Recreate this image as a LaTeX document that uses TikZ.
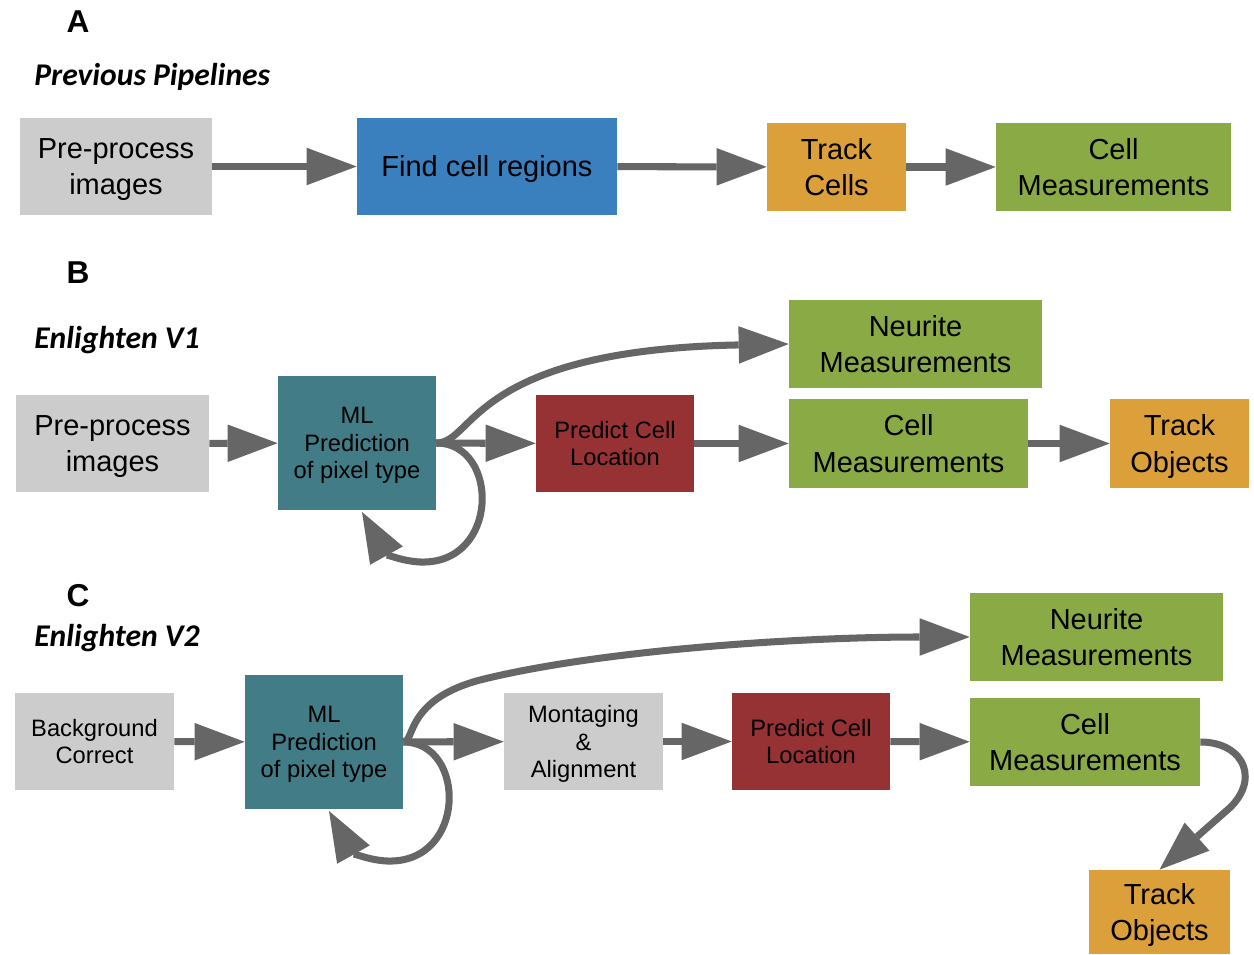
\documentclass[tikz,border=0pt]{standalone}
\usepackage{fontspec}
\setmainfont{Liberation Sans}
\newfontfamily\headfont{Carlito}
\usetikzlibrary{arrows.meta}
\definecolor{boxgray}{HTML}{CCCCCC}
\definecolor{boxblue}{HTML}{3A7FBE}
\definecolor{boxteal}{HTML}{427C87}
\definecolor{boxred}{HTML}{963234}
\definecolor{boxorange}{HTML}{DBA03A}
\definecolor{boxgreen}{HTML}{8AAA45}
\definecolor{arrowgray}{HTML}{666666}
\tikzset{
  blk/.style={inner sep=0pt, align=center, text depth=0pt, font=\fontsize{16.5}{20.5}\selectfont},
  sml/.style={font=\fontsize{13.5}{15.8}\selectfont},
  sz/.style 2 args={minimum width=#1cm, minimum height=#2cm},
  arr/.style={line width=4pt, draw=arrowgray, -{Triangle[length=1cm,width=0.75cm,line width=0pt]}},
  lbl/.style={inner sep=0pt, font=\fontsize{18}{20}\selectfont\bfseries},
  ttl/.style={inner sep=0pt, anchor=west, font=\fontsize{18}{20}\selectfont\headfont\bfseries\itshape}
}
\begin{document}
\begin{tikzpicture}[x=0.02cm, y=-0.02cm]
      \useasboundingbox (0,0) rectangle (1254,955);
      \draw
        (78,22) node[lbl] (la){A}
        (34,77) node[ttl] (ta){Previous Pipelines}
        (78,273) node[lbl] (lb){B}
        (34,340) node[ttl] (tb){Enlighten V1}
        (78,596) node[lbl] (lc){C}
        (34,638) node[ttl] (tc){Enlighten V2};
      \draw
        (116,166.5) node[blk, fill=boxgray, sz={3.84}{1.94}] (preA){Pre-process\\images}
        (487,166.5) node[blk, fill=boxblue, sz={5.2}{1.94}] (findA){Find cell regions}
        (836.5,167) node[blk, fill=boxorange, sz={2.78}{1.76}] (trackA){Track\\Cells}
        (1113.5,167) node[blk, fill=boxgreen, sz={4.7}{1.76}] (cellA){Cell\\Measurements};
      \draw
        (112.5,443.5) node[blk, fill=boxgray, sz={3.86}{1.94}] (preB){Pre-process\\images}
        (357,443) node[blk, sml, fill=boxteal, sz={3.16}{2.68}] (mlB){ML\\Prediction\\of pixel type}
        (615,443.5) node[blk, sml, fill=boxred, sz={3.16}{1.94}] (predB){Predict Cell\\Location}
        (915.5,344) node[blk, fill=boxgreen, sz={5.06}{1.76}] (neuB){Neurite\\Measurements}
        (908.5,443.5) node[blk, fill=boxgreen, sz={4.78}{1.78}] (cellB){Cell\\Measurements}
        (1179.5,443.5) node[blk, fill=boxorange, sz={2.78}{1.78}] (trackB){Track\\Objects};
      \draw
        (94.5,741.5) node[blk, sml, fill=boxgray, sz={3.18}{1.94}] (bgC){Background\\Correct}
        (324,742) node[blk, sml, fill=boxteal, sz={3.16}{2.68}] (mlC){ML\\Prediction\\of pixel type}
        (583.5,741.5) node[blk, sml, fill=boxgray, sz={3.18}{1.94}] (montC){Montaging\\\&\\Alignment}
        (811,741.5) node[blk, sml, fill=boxred, sz={3.16}{1.94}] (predC){Predict Cell\\Location}
        (1096.5,637) node[blk, fill=boxgreen, sz={5.06}{1.76}] (neuC){Neurite\\Measurements}
        (1085,742) node[blk, fill=boxgreen, sz={4.6}{1.76}] (cellC){Cell\\Measurements}
        (1159.5,912) node[blk, fill=boxorange, sz={2.82}{1.68}] (trackC){Track\\Objects};
      \coordinate (loopB) at (362,512);
      \coordinate (loopC) at (329,811);
      \begin{scope}[arr]
        \draw (preA) to (findA);
        \draw (findA) to (trackA);
        \draw (trackA) to (cellA);
        \draw (preB) to (mlB);
        \draw (mlB) to (predB);
        \draw (predB) to (cellB);
        \draw (cellB) to (trackB);
        \draw (mlB.east) .. controls (475,443) and (470,350) .. (neuB.west);
        \draw (mlB.east) .. controls (500,443) and (500,565) .. (420,562) .. controls (400,561) and (385,553) .. (loopB);
        \draw (bgC) to (mlC);
        \draw (mlC) to (montC);
        \draw (montC) to (predC);
        \draw (predC) to (cellC);
        \draw (mlC.east) .. controls (415,742) and (405,700) .. (480,680) .. controls (600,650) and (800,637) .. (neuC.west);
        \draw (mlC.east) .. controls (467,742) and (467,864) .. (387,861) .. controls (367,860) and (352,852) .. (loopC);
        \draw (cellC.east) .. controls (1245,742) and (1262,782) .. (1225,812) -- (trackC.north);
      \end{scope}
    \end{tikzpicture}
\end{document}
